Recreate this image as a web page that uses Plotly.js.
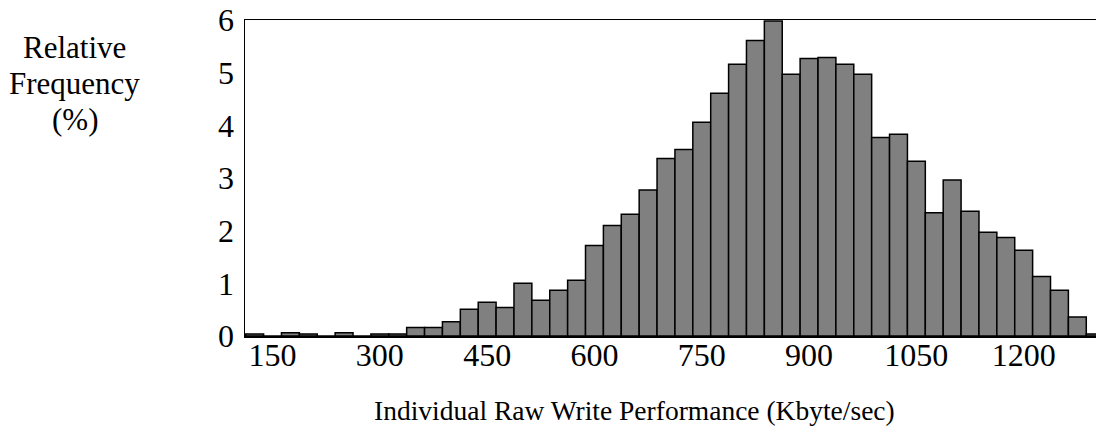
<!DOCTYPE html>
<html>
<head>
<meta charset="utf-8">
<script src="https://cdn.plot.ly/plotly-3.0.1.min.js"></script>
<style>html,body{margin:0;padding:0;background:#fff;}#chart{width:1096px;height:440px;}</style>
</head>
<body>
<div id="chart"></div>
<script>
// Bin centres (Kbyte/sec), bin width 25
var binCenters = [125,150,175,200,225,250,275,300,325,350,375,400,425,450,475,500,
  525,550,575,600,625,650,675,700,725,750,775,800,825,850,875,900,925,950,975,
  1000,1025,1050,1075,1100,1125,1150,1175,1200,1225,1250,1275,1300];
// Relative frequency (%)
var relFreq = [0.04,0,0.06,0.04,0,0.06,0,0.04,0.04,0.16,0.16,0.27,0.51,0.64,0.54,1.0,
  0.68,0.87,1.06,1.72,2.10,2.31,2.77,3.37,3.54,4.06,4.61,5.16,5.61,5.98,4.97,5.27,5.29,5.16,4.97,
  3.77,3.83,3.32,2.34,2.96,2.37,1.97,1.87,1.63,1.13,0.87,0.36,0.04];
var xTicks = [150,300,450,600,750,900,1050,1200];
var yTicks = [0,1,2,3,4,5,6];
var xTitle = "Individual Raw Write Performance (Kbyte/sec)";
var yTitleLines = ["Relative", "Frequency", "(%)"];

var FONT = 'Liberation Serif, Times New Roman, Times, serif';

var trace = {
  type: 'bar',
  x: binCenters,
  y: relFreq,
  width: 25,
  marker: {color: '#808080', line: {color: '#000000', width: 1.5}},
  hoverinfo: 'x+y'
};

var yTitleY = [0.913, 0.80, 0.685];
var annotations = yTitleLines.map(function (t, i) {
  return {text: t, xref: 'paper', yref: 'paper', x: -0.2, y: yTitleY[i],
    xanchor: 'center', yanchor: 'middle', showarrow: false,
    font: {family: FONT, size: 31, color: '#000'}};
});
annotations.push({text: xTitle, xref: 'paper', yref: 'paper', x: 0.458, y: -0.235,
  xanchor: 'center', yanchor: 'middle', showarrow: false,
  font: {family: FONT, size: 27.5, color: '#000'}});

var layout = {
  width: 1096, height: 440,
  margin: {l: 245, r: 0, t: 20, b: 104, pad: 0},
  paper_bgcolor: '#ffffff', plot_bgcolor: '#ffffff',
  showlegend: false,
  bargap: 0,
  font: {family: FONT, color: '#000000', size: 26},
  xaxis: {
    range: [111.5, 1301.1],
    tickmode: 'array', tickvals: xTicks, ticktext: xTicks.map(String),
    ticks: 'outside', ticklen: 0, tickwidth: 0, showgrid: false, zeroline: false,
    showline: true, mirror: true, linecolor: '#000000', linewidth: 1.5,
    tickfont: {family: FONT, size: 32, color: '#000'},
    ticklabelstandoff: -10
  },
  yaxis: {
    range: [0, 6],
    tickmode: 'array', tickvals: yTicks, ticktext: yTicks.map(String),
    ticks: 'outside', ticklen: 0, tickwidth: 0, showgrid: false, zeroline: false,
    showline: true, mirror: false, linecolor: '#000000', linewidth: 1.5,
    tickfont: {family: FONT, size: 32, color: '#000'},
    ticklabelstandoff: 3
  },
  annotations: annotations
};

Plotly.newPlot('chart', [trace], layout, {staticPlot: true, displayModeBar: false});
</script>
</body>
</html>
